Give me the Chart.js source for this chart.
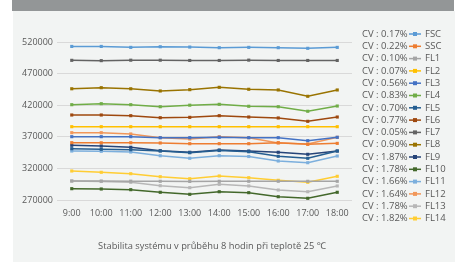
<!DOCTYPE html>
<html>
<head>
<meta charset="utf-8">
<script src="https://cdn.jsdelivr.net/npm/chart.js@4/dist/chart.umd.min.js"></script>
<style>
html, body { margin: 0; padding: 0; background: #fff; }
#wrap { width: 463px; height: 262px; }
</style>
</head>
<body>
<div id="wrap"><canvas id="graf"></canvas></div>
<script>
// hodiny mereni
var hodiny = ['9:00', '10:00', '11:00', '12:00', '13:00', '14:00', '15:00', '16:00', '17:00', '18:00'];
var nazvy = ['FSC', 'SSC', 'FL1', 'FL2', 'FL3', 'FL4', 'FL5', 'FL6', 'FL7', 'FL8', 'FL9', 'FL10', 'FL11', 'FL12', 'FL13', 'FL14'];
var cv = ['0.17%', '0.22%', '0.10%', '0.07%', '0.56%', '0.83%', '0.70%', '0.77%', '0.05%', '0.90%', '1.87%', '1.78%', '1.66%', '1.64%', '1.78%', '1.82%'];
var yTicks = [270000, 320000, 370000, 420000, 470000, 520000];

var fsc  = [513000, 513000, 511500, 512500, 512000, 511000, 511500, 511000, 510000, 511500];
var ssc  = [360700, 360500, 360600, 360200, 359100, 359100, 359100, 360700, 358100, 359600];
var fl1  = [300000, 300000, 299800, 299600, 299400, 299600, 299600, 299600, 299600, 299600];
var fl2  = [386000, 386000, 386000, 386000, 386000, 386000, 386000, 386000, 386000, 386000];
var fl3  = [370200, 370200, 370200, 368600, 368600, 369200, 368600, 368600, 363900, 369200];
var fl4  = [420800, 422400, 420800, 417600, 420000, 421400, 418300, 417600, 410400, 418700];
var fl5  = [351200, 350200, 349600, 347500, 344800, 348300, 346400, 339100, 336000, 347500];
var fl6  = [404500, 404500, 403400, 400200, 400800, 403400, 401300, 399800, 394500, 401300];
var fl7  = [491000, 490500, 491200, 491200, 490800, 490800, 491300, 490800, 490800, 490800];
var fl8  = [446000, 447700, 446000, 442500, 444600, 448300, 445200, 444100, 434100, 444100];
var fl9  = [356600, 355400, 353400, 348000, 345500, 349100, 347500, 345500, 342300, 347500];
var fl10 = [287900, 287400, 286300, 282200, 279000, 283100, 281600, 275200, 272700, 282200];
var fl11 = [347500, 347000, 345900, 340000, 336000, 340100, 338800, 331700, 329000, 339600];
var fl12 = [376500, 376500, 374500, 368600, 366500, 370200, 368600, 360200, 358600, 369200];
var fl13 = [300100, 299300, 298000, 292600, 289500, 294800, 292200, 285800, 283100, 292200];
var fl14 = [315900, 313800, 311600, 306900, 303700, 308000, 305300, 301200, 298000, 307500];

var serie = [fsc, ssc, fl1, fl2, fl3, fl4, fl5, fl6, fl7, fl8, fl9, fl10, fl11, fl12, fl13, fl14];
var barvy = ['#5B9BD5', '#ED7D31', '#A5A5A5', '#FFC000', '#4472C4', '#70AD47', '#255E91', '#9E480E',
             '#636363', '#997300', '#264478', '#43682B', '#7CAFDD', '#F1975A', '#B7B7B7', '#FFCD33'];

var pismo = '"Open Sans", "Noto Sans", sans-serif';
var sedaText = '#595959';

var datasets = [];
for (var i = 0; i < serie.length; i++) {
	datasets.push({
		label: nazvy[i],
		data: serie[i],
		borderColor: barvy[i],
		backgroundColor: barvy[i],
		borderWidth: 1.5,
		pointStyle: 'rect',
		pointRadius: 2.2,
		pointBorderWidth: 0,
		tension: 0
	});
}

// pozadi, legenda s CV a popisek dole
var kresleni = {
	id: 'kresleni',
	beforeDraw: function(chart) {
		var c = chart.ctx;
		c.save();
		c.fillStyle = '#ffffff';
		c.fillRect(0, 0, chart.width, chart.height);
		c.fillStyle = '#939697';
		c.fillRect(12, 0, 442, 11);
		c.fillStyle = '#f2f4f3';
		c.fillRect(13, 11, 442, 251);
		c.restore();
	},
	afterDraw: function(chart) {
		var c = chart.ctx;
		c.save();
		c.font = '9.5px ' + pismo;
		c.textBaseline = 'middle';
		for (var i = 0; i < nazvy.length; i++) {
			var y = 34 + i * 12.3;
			c.fillStyle = sedaText;
			c.textAlign = 'left';
			c.fillText('CV : ' + cv[i], 362, y);
			c.strokeStyle = barvy[i];
			c.lineWidth = 1.5;
			c.beginPath();
			c.moveTo(409, y);
			c.lineTo(421, y);
			c.stroke();
			c.fillStyle = barvy[i];
			c.fillRect(413, y - 2, 4, 4);
			c.fillStyle = sedaText;
			c.fillText(nazvy[i], 425, y);
		}
		c.font = '9.3px ' + pismo;
		c.textAlign = 'center';
		c.fillText('Stabilita systému v průběhu 8 hodin při teplotě 25 ℃', 212, 246);
		c.restore();
	}
};

var ctx = document.getElementById('graf');
var wykres = new Chart(ctx, {
	type: 'line',
	data: { labels: hodiny, datasets: datasets },
	options: {
		responsive: true,
		maintainAspectRatio: false,
		animation: false,
		devicePixelRatio: 1,
		layout: { padding: { left: 0, right: 111, top: 42, bottom: 0 } },
		plugins: {
			legend: { display: false },
			tooltip: { enabled: false }
		},
		scales: {
			x: {
				offset: true,
				grid: { display: false, drawTicks: false },
				border: { display: false },
				ticks: { color: sedaText, font: { family: pismo, size: 9 }, padding: 8, maxRotation: 0 },
				afterFit: function(s) { s.height = 62; }
			},
			y: {
				min: 270000,
				max: 520000,
				afterBuildTicks: function(s) { s.ticks = yTicks.map(function(v) { return { value: v }; }); },
				grid: { color: '#d9d9d9', lineWidth: 1, drawTicks: false },
				border: { display: false },
				ticks: {
					color: sedaText,
					font: { family: pismo, size: 9 },
					padding: 4,
					callback: function(v) { return String(v); }
				},
				afterFit: function(s) { s.width = 57; }
			}
		}
	},
	plugins: [kresleni]
});
</script>
</body>
</html>
